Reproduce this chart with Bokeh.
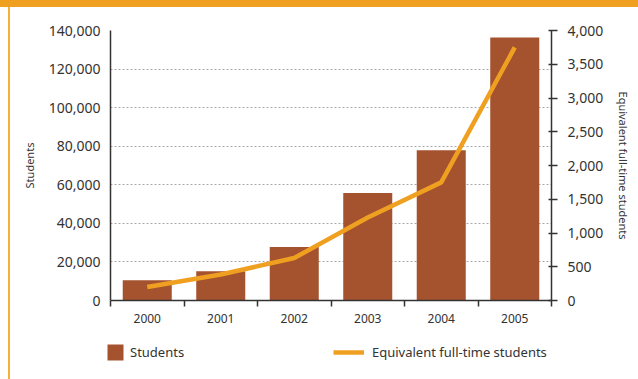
from bokeh.plotting import figure
from bokeh.layouts import column
from bokeh.models import (Range1d, LinearAxis, FixedTicker, NumeralTickFormatter,
                          Legend, LegendItem, Grid)
from bokeh.embed import file_html
from bokeh.resources import INLINE

# ---- data ----
years = ["2000", "2001", "2002", "2003", "2004", "2005"]
students = [10500, 15200, 27800, 55800, 77900, 136400]
fte = [200, 385, 630, 1230, 1750, 3750]
left_ticks = [0, 20000, 40000, 60000, 80000, 100000, 120000, 140000]
right_ticks = [0, 500, 1000, 1500, 2000, 2500, 3000, 3500, 4000]
series_names = ["Students", "Equivalent full-time students"]

BAR = "#A5532F"
ORANGE = "#F0A020"
TXT = "#333333"
AX = "#333333"
FONT = "Noto Sans"

idx = list(range(len(years)))

p = figure(width=638, height=330, output_backend="svg", toolbar_location=None,
           x_range=Range1d(-0.5, len(years) - 0.5),
           y_range=Range1d(left_ticks[0], left_ticks[-1]),
           x_axis_type=None, y_axis_type=None,
           min_border_left=110, min_border_right=87,
           min_border_top=30, min_border_bottom=30)
p.extra_y_ranges = {"fte": Range1d(right_ticks[0], right_ticks[-1])}
p.outline_line_color = None
p.border_fill_color = None
p.background_fill_color = "white"

p.add_layout(Grid(dimension=1, ticker=FixedTicker(ticks=left_ticks[1:]),
                  grid_line_color="#a8a8a8", grid_line_dash="2 2",
                  grid_line_width=1.2))

la = LinearAxis(ticker=FixedTicker(ticks=left_ticks),
                formatter=NumeralTickFormatter(format="0,0"),
                axis_label=series_names[0])
ra = LinearAxis(y_range_name="fte", ticker=FixedTicker(ticks=right_ticks),
                formatter=NumeralTickFormatter(format="0,0"),
                axis_label=series_names[1])
xa = LinearAxis(ticker=FixedTicker(ticks=idx,
                                   minor_ticks=[i - 0.5 for i in range(len(years) + 1)]),
                major_label_overrides={i: y for i, y in enumerate(years)})

for a in (la, ra, xa):
    a.axis_line_color = AX
    a.axis_line_width = 1.5
    a.major_label_text_font = FONT
    a.major_label_text_color = TXT
    a.axis_label_text_font = FONT
    a.axis_label_text_color = TXT
    a.axis_label_text_font_style = "normal"
    a.axis_label_text_font_size = "11px"

la.major_tick_out = 0
la.major_tick_in = 0
la.minor_tick_out = 0
la.minor_tick_in = 0
la.major_label_text_font_size = "14px"
la.major_label_standoff = 10
la.axis_label_standoff = 9

ra.major_tick_out = 6
ra.major_tick_in = 3
ra.major_tick_line_color = AX
ra.major_tick_line_width = 1.5
ra.minor_tick_out = 0
ra.minor_tick_in = 0
ra.major_label_text_font_size = "14px"
ra.major_label_standoff = 10
ra.axis_label_standoff = 10

xa.major_tick_out = 0
xa.major_tick_in = 0
xa.minor_tick_out = 6
xa.minor_tick_in = 0
xa.minor_tick_line_color = AX
xa.minor_tick_line_width = 1.5
xa.major_label_text_font_size = "12px"
xa.major_label_standoff = 7

p.add_layout(la, "left")
p.add_layout(ra, "right")
p.add_layout(xa, "below")

p.vbar(x=idx, top=students, width=0.667, fill_color=BAR, line_color=None)
p.line(x=idx, y=fte, y_range_name="fte", line_color=ORANGE, line_width=4.5)

# ---- legend strip ----
lg = figure(width=638, height=49, output_backend="svg", toolbar_location=None,
            x_range=Range1d(0, 1), y_range=Range1d(0, 1),
            x_axis_type=None, y_axis_type=None,
            min_border_left=0, min_border_right=0, min_border_top=0, min_border_bottom=0)
lg.frame_align = False
lg.outline_line_color = None
lg.border_fill_color = None
lg.background_fill_alpha = 0
r_bar = lg.vbar(x=[0], top=[0], width=0, fill_color=BAR, line_color=None)
r_line = lg.line(x=[0], y=[0], line_color=ORANGE, line_width=4.5)

common = dict(padding=0, margin=0, border_line_color=None, background_fill_alpha=0,
              label_text_font=FONT, label_text_font_size="13px", label_text_color=TXT,
              label_height=20, glyph_height=20)
leg1 = Legend(items=[LegendItem(label=series_names[0], renderers=[r_bar])],
              location=(105, 17), glyph_width=20, label_standoff=5, **common)
leg2 = Legend(items=[LegendItem(label=series_names[1], renderers=[r_line])],
              location=(333, 17), glyph_width=31, label_standoff=8, **common)
lg.add_layout(leg1, "center")
lg.add_layout(leg2, "center")

layout = column(p, lg, spacing=0)
layout.styles = {
    "background": ("linear-gradient(#F0A020,#F0A020) 0 0 / 100% 7px no-repeat, "
                   "linear-gradient(#F4B13A,#F4B13A) 8px 0 / 2px 100% no-repeat, #ffffff"),
}

open("out.html", "w").write(file_html(layout, INLINE))
